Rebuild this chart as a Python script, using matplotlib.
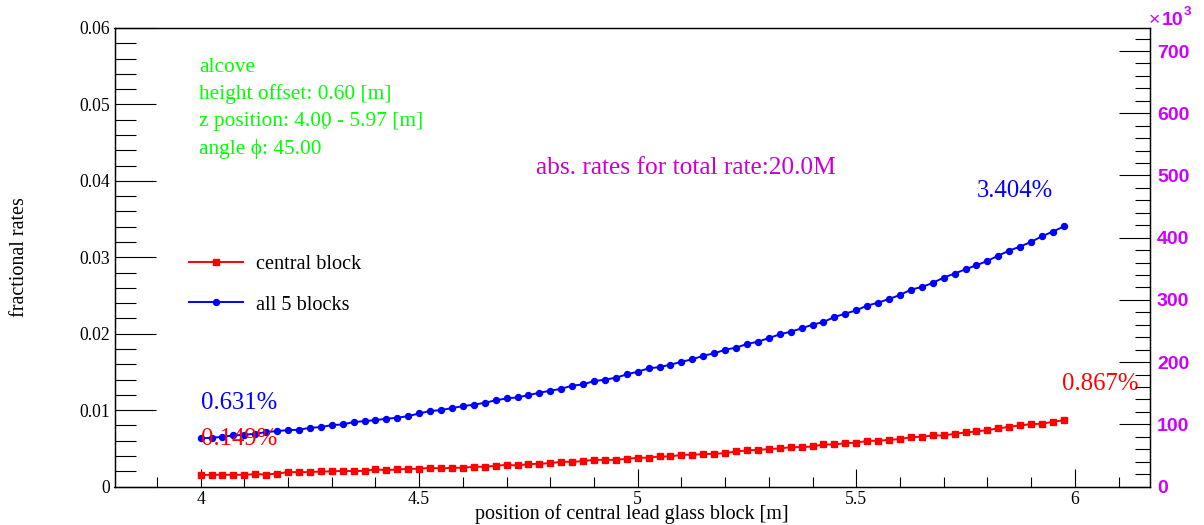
import numpy as np
import matplotlib
matplotlib.use('Agg')
import matplotlib.pyplot as plt
from matplotlib.ticker import MultipleLocator, FuncFormatter

# z position of the central lead glass block [m], 4.00 ... 5.975 in 0.025 steps
z_pos = np.round(4.0 + 0.025 * np.arange(80), 3)

# fractional rates
central_block = [
    0.00149, 0.00153, 0.00153, 0.00153, 0.00153, 0.00162, 0.00157, 0.00170, 0.00188, 0.00188,
    0.00188, 0.00197, 0.00197, 0.00205, 0.00201, 0.00205, 0.00223, 0.00214, 0.00223, 0.00231,
    0.00231, 0.00245, 0.00236, 0.00245, 0.00245, 0.00258, 0.00258, 0.00271, 0.00284, 0.00275,
    0.00293, 0.00297, 0.00306, 0.00323, 0.00323, 0.00332, 0.00349, 0.00349, 0.00349, 0.00362,
    0.00376, 0.00376, 0.00393, 0.00393, 0.00415, 0.00415, 0.00424, 0.00428, 0.00437, 0.00459,
    0.00472, 0.00480, 0.00489, 0.00498, 0.00515, 0.00515, 0.00524, 0.00550, 0.00550, 0.00568,
    0.00572, 0.00598, 0.00598, 0.00611, 0.00620, 0.00646, 0.00651, 0.00668, 0.00668, 0.00690,
    0.00707, 0.00721, 0.00738, 0.00760, 0.00782, 0.00799, 0.00817, 0.00821, 0.00847, 0.00867]
all_blocks = [
    0.00631, 0.00637, 0.00651, 0.00668, 0.00677, 0.00690, 0.00712, 0.00725, 0.00738, 0.00742,
    0.00769, 0.00777, 0.00803, 0.00812, 0.00843, 0.00856, 0.00869, 0.00886, 0.00900, 0.00921,
    0.00956, 0.00987, 0.01000, 0.01026, 0.01052, 0.01070, 0.01096, 0.01127, 0.01153, 0.01166,
    0.01196, 0.01227, 0.01253, 0.01279, 0.01319, 0.01336, 0.01380, 0.01397, 0.01424, 0.01467,
    0.01503, 0.01546, 0.01563, 0.01594, 0.01633, 0.01664, 0.01712, 0.01742, 0.01790, 0.01817,
    0.01865, 0.01895, 0.01943, 0.01991, 0.02026, 0.02070, 0.02118, 0.02153, 0.02218, 0.02262,
    0.02306, 0.02367, 0.02406, 0.02454, 0.02506, 0.02576, 0.02611, 0.02664, 0.02734, 0.02786,
    0.02843, 0.02895, 0.02952, 0.03022, 0.03087, 0.03140, 0.03201, 0.03275, 0.03336, 0.03404]

info_lines = ['alcove', 'height offset: 0.60 [m]', 'z position: 4.00 - 5.97 [m]', 'angle \u03d5: 45.00']
abs_axis_max = 737.0  # right axis, in units of 10^3

SERIF = 'Liberation Serif'
SANS = 'Liberation Sans'
GREEN = '#00ff00'
VIOLET = '#cc00ff'
W, H = 1204, 525
plt.rcParams['font.family'] = SERIF


def fx(px):
    return px / W


def fy(py):
    return 1 - py / H


fig = plt.figure(figsize=(W / 100, H / 100), dpi=100)
ax = fig.add_axes([fx(114.5), fy(486.5), (1150 - 114.5) / W, (486.5 - 28) / H])
ax2 = ax.twinx()

ax.plot(z_pos, central_block, color='red', lw=1.4, marker='s', ms=4.3, label='central block')
ax.plot(z_pos, all_blocks, color='blue', lw=1.4, marker='o', ms=4.3, label='all 5 blocks')

ax.set_xlim(3.803, 6.172)
ax.set_ylim(0, 0.06)
ax2.set_ylim(0, abs_axis_max)

ax.xaxis.set_major_locator(MultipleLocator(0.5))
ax.xaxis.set_minor_locator(MultipleLocator(0.1))
ax.yaxis.set_major_locator(MultipleLocator(0.01))
ax.yaxis.set_minor_locator(MultipleLocator(0.002))
ax2.yaxis.set_major_locator(MultipleLocator(100))
ax2.yaxis.set_minor_locator(MultipleLocator(20))
ax.xaxis.set_major_formatter(FuncFormatter(lambda v, p: '%g' % round(v, 3)))
ax.yaxis.set_major_formatter(FuncFormatter(lambda v, p: '%g' % round(v, 3)))

ax.tick_params(axis='x', which='major', direction='in', length=13, width=0.8, top=False,
               pad=3, labelsize=12.7)
ax.tick_params(axis='x', which='minor', direction='in', length=7, width=0.8, top=False)
ax.tick_params(axis='y', which='major', direction='in', length=29.5, width=0.8, right=False,
               pad=3, labelsize=12.7)
ax.tick_params(axis='y', which='minor', direction='in', length=15, width=0.8, right=False)
ax2.tick_params(axis='y', which='major', direction='in', length=22, width=0.8, pad=5,
                labelcolor=VIOLET, labelsize=14, labelfontfamily=SANS)
ax2.tick_params(axis='y', which='minor', direction='in', length=11, width=0.8)
for lab in ax2.get_yticklabels():
    lab.set_fontweight('bold')
for a in (ax, ax2):
    for s in a.spines.values():
        s.set_linewidth(0.9)

fig.text(fx(1149), fy(25), '\u00d7', color=VIOLET, fontfamily=SANS,
         fontsize=14, ha='left', va='baseline')
fig.text(fx(1162), fy(25), '10', color=VIOLET, fontfamily=SANS, fontweight='bold',
         fontsize=14, ha='left', va='baseline')
fig.text(fx(1184), fy(15), '3', color=VIOLET, fontfamily=SANS, fontweight='bold',
         fontsize=9.5, ha='left', va='baseline')

# axis titles
fig.text(fx(632), fy(519), 'position of central lead glass block [m]', fontfamily=SERIF,
         fontsize=14.5, ha='center', va='baseline')
fig.text(fx(20), fy(257), 'fractional rates', fontfamily=SERIF, fontsize=14.5,
         rotation=90, ha='center', va='center')

# info block
for i, line in enumerate(info_lines):
    fig.text(fx(199), fy(72 + i * 27.2), line, color=GREEN, fontfamily=SERIF,
             fontsize=15.4, ha='left', va='baseline')
fig.text(fx(324), fy(134), '\u00b0', color=GREEN, fontfamily=SERIF, fontsize=10,
         ha='center', va='baseline')

fig.text(fx(686), fy(174), 'abs. rates for total rate:20.0M', color='#cc00cc',
         fontfamily=SERIF, fontsize=18.3, ha='center', va='baseline')

# start / end percentages
ax.text(z_pos[0], 0.01014, '%.3f%%' % (all_blocks[0] * 100), color='blue',
        fontfamily=SERIF, fontsize=17.8, ha='left', va='baseline')
ax.text(z_pos[0], 0.00543, '%.3f%%' % (central_block[0] * 100), color='red',
        fontfamily=SERIF, fontsize=17.8, ha='left', va='baseline')
ax.text(5.776, 0.0379, '%.3f%%' % (all_blocks[-1] * 100), color='blue',
        fontfamily=SERIF, fontsize=17.8, ha='left', va='baseline')
ax.text(5.970, 0.01263, '%.3f%%' % (central_block[-1] * 100), color='red',
        fontfamily=SERIF, fontsize=17.8, ha='left', va='baseline')

ax.legend(loc='center left', bbox_to_anchor=(fx(189), fy(284.5)), bbox_transform=fig.transFigure,
          frameon=False, numpoints=1, handlelength=2.66, handletextpad=0.63,
          borderpad=0, borderaxespad=0, labelspacing=1.07,
          prop={'family': SERIF, 'size': 14.6})

fig.savefig('out.png', dpi=100)
